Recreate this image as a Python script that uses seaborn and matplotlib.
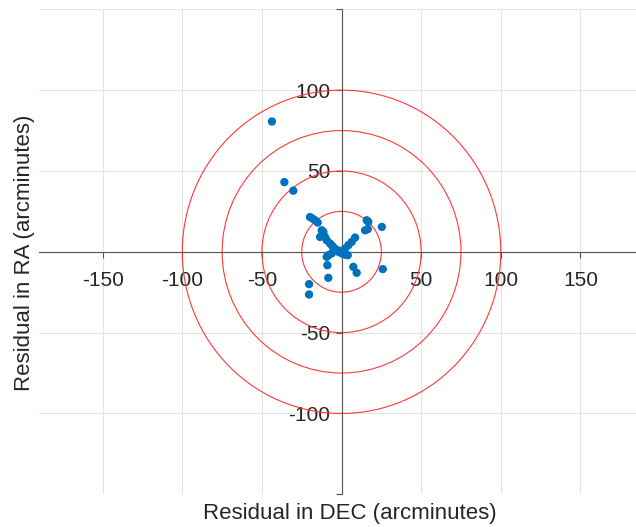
import numpy as np
import pandas as pd
import seaborn as sns
import matplotlib.pyplot as plt
from matplotlib.patches import Circle

# residuals (arcminutes)
dec_resid = [-43.7, -35.9, -30.3, -19.8, -18.3, -16.6, -15.0, -12.4, -11.4, -13.5,
             -10.4, -9.3, -7.2, -5.8, -4.1, -3.0, -2.0, -8.3, -6.2, -9.3,
             0.1, 2.2, 3.9, 2.2, 4.3, 6.4, 8.5, 15.8, 16.8, 14.8,
             16.5, 25.3, -8.9, -8.3, 7.4, 9.5, 25.9, -20.4, -20.4, -1.0,
             1.0, -4.5]
ra_resid = [80.6, 43.1, 37.8, 21.5, 20.6, 19.5, 18.1, 13.3, 12.3, 9.2,
            9.2, 7.2, 5.1, 3.6, 2.0, 1.0, 0.0, -2.1, -1.0, -3.1,
            -1.0, -1.7, -2.1, 2.0, 4.1, 6.1, 8.8, 19.5, 18.5, 13.3,
            14.0, 15.4, -8.3, -16.1, -9.3, -13.0, -10.7, -20.0, -26.4, 0.5,
            -0.5, 1.5]
ring_radii = [25, 50, 75, 100]
ticks = [-150, -100, -50, 0, 50, 100, 150]

df = pd.DataFrame({'dec': dec_resid, 'ra': ra_resid})

sns.set_theme(style="white")
plt.rcParams['font.family'] = ['Liberation Sans', 'DejaVu Sans']

fig = plt.figure(figsize=(6.36, 5.27), dpi=100)
ax = fig.add_axes([39/636, 32.7/527, 621/636, 485/527])

ax.set_xlim(-190, 200)
ax.set_ylim(-150, 150)
ax.set_xticks(ticks)
ax.set_yticks(ticks)
ax.grid(True, color='#e3e3e3', lw=0.8, zorder=0)
ax.set_axisbelow(True)

for r in ring_radii:
    ax.add_patch(Circle((0, 0), r, fill=False, edgecolor='#ff3838', lw=0.8, zorder=2))

sns.scatterplot(data=df, x='dec', y='ra', ax=ax, color='#0072BD', s=36,
                edgecolor='none', zorder=3)

# axes through the origin
for s in ['top', 'right']:
    ax.spines[s].set_visible(False)
ax.spines['left'].set_position(('data', 0))
ax.spines['bottom'].set_position(('data', 0))
for s in ['left', 'bottom']:
    ax.spines[s].set_color('#555555')
    ax.spines[s].set_linewidth(0.8)
    ax.spines[s].set_zorder(2.5)

ax.tick_params(axis='both', direction='out', length=4, width=0.8,
               bottom=True, left=True, top=False, right=False,
               color='#555555', labelsize=15, labelcolor='#262626')
ax.tick_params(axis='x', pad=10)
ax.tick_params(axis='y', pad=4)
ax.set_xticklabels(['' if t == 0 else str(t) for t in ticks])
ax.set_yticklabels(['' if t in (0, 150, -150) else str(t) for t in ticks])

ax.set_xlabel('')
ax.set_ylabel('')
fig.text(350/636, 1 - 513/527, 'Residual in DEC (arcminutes)', ha='center', va='center',
         fontsize=16, color='#262626')
fig.text(25/636, 1 - 253/527, 'Residual in RA (arcminutes)', ha='center', va='center',
         rotation=90, fontsize=16, color='#262626')

fig.savefig('out.png', dpi=100)
